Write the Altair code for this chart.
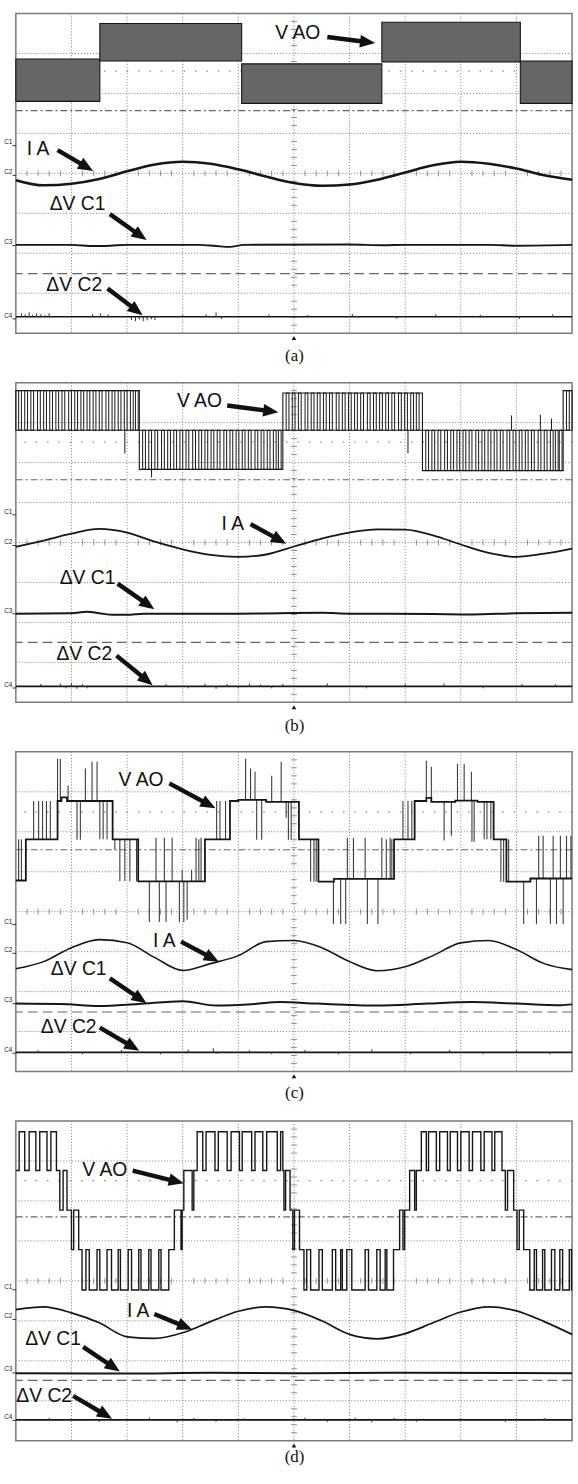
import math
import altair as alt
import numpy as np
import pandas as pd

# ---------------------------------------------------------------------------
# Data (x: 0..10 div, y: 0..8 div)
# ---------------------------------------------------------------------------
CAPTIONS = ["(a)", "(b)", "(c)", "(d)"]
CAPTION_GAP = [15, 15, 13, 8]
CHANNELS = ["C1", "C2", "C3", "C4"]
CH_LEVELS = [[4.71, 3.97, 2.21, 0.38],
             [4.70, 3.94, 2.22, 0.37],
             [3.69, 2.98, 1.72, 0.48],
             [3.79, 3.05, 1.72, 0.52]]
DASHDOT_Y = [5.57, 5.57, 5.55, 5.60]
DASHED_Y = [1.49, 1.50, 1.49, 1.51]
CURSOR_Y = [6.56, 6.51, 6.49, 6.51]

# V AO (a): dense PWM bands
A_X0 = [0, 1.51, 4.06, 6.58, 9.07]
A_X1 = [1.51, 4.06, 6.58, 9.07, 10]
A_LO = [5.80, 6.81, 5.75, 6.79, 5.75]
A_HI = [6.86, 7.75, 6.74, 7.78, 6.81]

# V AO (b): PWM bands and the notches seen in them
B_X0 = [0, 2.22, 4.80, 7.31, 9.84]
B_X1 = [2.22, 4.80, 7.31, 9.84, 10]
B_LO = [6.81, 5.83, 6.81, 5.80, 6.81]
B_HI = [7.80, 6.81, 7.74, 6.81, 7.80]
B_NOTCH = [0.05, 0.16, 0.27, 0.39, 0.50, 0.61, 0.72, 0.83, 0.95, 1.06, 1.17, 1.28,
           1.39, 1.50, 1.62, 1.73, 1.84, 1.95, 2.06, 2.15,
           2.28, 2.39, 2.50, 2.62, 2.73, 2.84, 2.95, 3.06, 3.18, 3.29, 3.40, 3.51,
           3.62, 3.74, 3.85, 3.96, 4.07, 4.18, 4.30, 4.41, 4.52, 4.63, 4.72,
           4.86, 4.97, 5.08, 5.20, 5.31, 5.42, 5.53, 5.64, 5.76, 5.87, 5.98, 6.09,
           6.20, 6.32, 6.43, 6.54, 6.65, 6.76, 6.88, 6.99, 7.10, 7.20,
           7.37, 7.48, 7.59, 7.71, 7.82, 7.93, 8.04, 8.15, 8.27, 8.38, 8.49, 8.60,
           8.71, 8.83, 8.94, 9.05, 9.16, 9.27, 9.39, 9.50, 9.61, 9.70, 9.77, 9.90]
B_SPK = [(1.96, 6.81, 6.23), (2.44, 5.83, 5.63), (7.05, 6.81, 6.23),
         (8.91, 6.81, 7.18), (9.43, 6.81, 7.20), (9.63, 6.81, 7.10)]

# V AO (c): staircase (x, level) plus spikes (x, end level)
C_STEP = [(0, 4.78), (0.18, 5.81), (0.75, 6.77), (0.82, 6.86), (0.92, 6.77),
          (1.74, 5.81), (2.20, 4.76), (3.40, 5.81), (3.85, 6.77), (4.00, 6.80),
          (4.50, 6.75), (5.09, 5.81), (5.44, 4.75), (5.72, 4.82), (6.80, 5.81),
          (7.17, 6.77), (7.38, 6.85), (7.47, 6.75), (7.90, 6.78), (8.30, 6.75),
          (8.59, 5.81), (8.82, 4.75), (9.25, 4.83), (10, 4.83)]
C_SPK = [(0.05, 5.81), (0.10, 5.81), (0.32, 6.77), (0.41, 6.77), (0.48, 6.77),
         (0.55, 6.77), (0.62, 6.77), (0.75, 7.83), (0.80, 7.83), (0.94, 7.16),
         (1.25, 7.58), (1.37, 7.75), (1.46, 7.75), (1.10, 5.80), (1.16, 5.80),
         (1.51, 5.81), (1.57, 5.81), (1.64, 5.81), (1.78, 5.55), (1.87, 4.76),
         (1.96, 4.76), (2.05, 4.76), (2.17, 4.76), (2.40, 3.74), (2.58, 3.74),
         (2.70, 3.74), (2.94, 3.74), (3.02, 3.74), (3.08, 3.80), (2.52, 5.85),
         (2.67, 5.85), (2.81, 5.85), (3.24, 5.85), (3.33, 5.85), (2.99, 5.05),
         (3.16, 5.05), (3.29, 5.81), (3.61, 6.77), (3.67, 6.77), (3.77, 6.77),
         (4.13, 7.83), (4.22, 7.58), (4.30, 7.50), (4.60, 7.40), (4.77, 7.75),
         (4.33, 5.80), (4.42, 5.80), (4.86, 6.35), (4.90, 5.80), (4.95, 5.80),
         (5.30, 4.75), (5.36, 4.75), (5.40, 4.75), (5.71, 3.69), (5.84, 3.69),
         (5.93, 3.69), (6.32, 3.69), (6.51, 3.69), (5.96, 5.85), (6.07, 5.85),
         (6.28, 5.85), (6.58, 5.85), (6.73, 5.85), (6.66, 5.81), (6.76, 5.81),
         (6.96, 6.77), (7.05, 6.77), (7.12, 6.77), (7.38, 7.78), (7.47, 7.63),
         (7.94, 7.70), (8.06, 7.70), (8.19, 7.50), (7.70, 5.78), (7.83, 5.90),
         (8.20, 5.75), (8.24, 5.75), (8.42, 5.81), (8.47, 5.81), (8.54, 5.81),
         (8.72, 4.75), (8.77, 4.75), (8.86, 5.81), (9.13, 3.69), (9.36, 3.69),
         (9.61, 3.69), (9.72, 3.69), (9.84, 3.69), (9.40, 5.90), (9.48, 5.90),
         (9.66, 5.90), (9.79, 5.90), (9.90, 5.90), (9.98, 5.90)]

# V AO (d): five-level waveform (x, level number 1..5)
D_LEVELS = [7.73, 6.76, 5.77, 4.78, 3.77]
D_STEP = [(0, 2), (0.06, 1), (0.16, 2), (0.24, 1), (0.36, 2), (0.43, 1), (0.56, 2),
          (0.63, 1), (0.73, 2), (0.79, 3), (0.85, 2), (0.92, 3), (1.00, 4), (1.04, 3),
          (1.13, 4), (1.19, 5), (1.26, 4), (1.32, 5), (1.46, 4), (1.51, 5), (1.64, 4),
          (1.72, 5), (1.84, 4), (1.88, 5), (2.02, 4), (2.08, 5), (2.21, 4), (2.25, 5),
          (2.39, 4), (2.43, 5), (2.57, 4), (2.61, 5), (2.75, 4), (2.85, 3), (2.97, 4),
          (2.99, 3), (3.02, 2), (3.17, 3), (3.20, 2), (3.26, 1), (3.36, 2), (3.42, 1),
          (3.58, 2), (3.64, 1), (3.80, 2), (3.87, 1), (4.02, 2), (4.07, 1), (4.24, 2),
          (4.30, 1), (4.44, 2), (4.51, 1), (4.70, 2), (4.76, 1), (4.80, 2), (4.82, 3),
          (4.85, 2), (4.93, 3), (4.98, 4), (5.01, 3), (5.10, 4), (5.18, 5), (5.23, 4),
          (5.30, 5), (5.45, 4), (5.51, 5), (5.69, 4), (5.75, 5), (5.84, 4), (5.87, 5),
          (5.95, 4), (6.04, 5), (6.28, 4), (6.34, 5), (6.49, 4), (6.55, 5), (6.64, 4),
          (6.67, 5), (6.79, 4), (6.90, 3), (6.96, 4), (6.99, 3), (7.08, 2), (7.17, 3),
          (7.20, 2), (7.29, 1), (7.38, 2), (7.42, 1), (7.56, 2), (7.62, 1), (7.76, 2),
          (7.81, 1), (7.94, 2), (8.00, 1), (8.15, 2), (8.21, 1), (8.36, 2), (8.42, 1),
          (8.56, 2), (8.61, 1), (8.74, 2), (8.80, 3), (8.84, 2), (8.95, 3), (9.01, 4),
          (9.05, 3), (9.13, 4), (9.24, 5), (9.32, 4), (9.36, 5), (9.47, 4), (9.51, 5),
          (9.63, 4), (9.69, 5), (9.78, 4), (9.83, 5), (9.95, 4), (9.99, 5), (10, 5)]

# I A traces sampled every half division
IA_X = [0, 0.5, 1, 1.5, 2, 2.5, 3, 3.5, 4, 4.5, 5, 5.5, 6, 6.5, 7, 7.5, 8, 8.5, 9, 9.5, 10]
IA = [[3.83, 3.70, 3.74, 3.86, 4.05, 4.22, 4.29, 4.24, 4.10, 3.92, 3.76, 3.69, 3.72,
       3.84, 4.02, 4.20, 4.29, 4.24, 4.12, 3.95, 3.84],
      [3.89, 4.05, 4.22, 4.34, 4.25, 4.02, 3.83, 3.69, 3.64, 3.70, 3.90, 4.10, 4.25,
       4.33, 4.32, 4.18, 3.95, 3.74, 3.64, 3.72, 3.85],
      [2.57, 2.75, 3.10, 3.30, 3.22, 2.85, 2.53, 2.70, 2.90, 3.25, 3.28, 3.10, 2.75,
       2.52, 2.62, 2.90, 3.22, 3.28, 3.05, 2.70, 2.55],
      [3.28, 3.35, 3.20, 2.95, 2.60, 2.56, 2.70, 2.98, 3.24, 3.35, 3.26, 3.00, 2.66,
       2.55, 2.68, 2.95, 3.22, 3.35, 3.25, 2.98, 2.66]]

# delta V C1 traces
C1_X = [[0, 1.0, 1.4, 1.7, 2.0, 3.3, 3.6, 3.85, 4.1, 6.0, 6.6, 7.0, 8.5, 9.0, 10],
        [0, 1.0, 1.28, 1.5, 1.75, 2.0, 2.3, 4.0, 5.5, 6.0, 7.5, 8.2, 9.0, 10],
        [0, 0.8, 1.5, 2.2, 3.0, 3.6, 4.3, 4.75, 5.4, 6.5, 7.4, 8.2, 9.0, 9.8, 10],
        [0, 2.0, 3.5, 5.0, 7.0, 10]]
C1_Y = [[2.21, 2.21, 2.18, 2.19, 2.21, 2.21, 2.18, 2.16, 2.21, 2.22, 2.20, 2.21, 2.21, 2.19, 2.21],
        [2.22, 2.23, 2.27, 2.23, 2.19, 2.19, 2.22, 2.22, 2.24, 2.22, 2.21, 2.20, 2.23, 2.24],
        [1.70, 1.69, 1.64, 1.69, 1.76, 1.65, 1.69, 1.74, 1.70, 1.65, 1.70, 1.74, 1.70, 1.66, 1.68],
        [1.69, 1.68, 1.70, 1.69, 1.70, 1.69]]

# delta V C2 traces: base level and noise spikes
C2_BASE = [0.41, 0.40, 0.48, 0.52]
C2_SPK_X = [[0.10, 0.17, 0.24, 0.30, 0.37, 0.45, 0.52, 0.60, 1.38, 1.52, 1.66, 2.08, 2.15,
             2.22, 2.29, 2.36, 2.44, 2.50, 3.00, 3.42, 3.60, 3.70, 4.55, 5.25, 6.05, 6.85,
             7.55, 8.35, 9.05, 9.65],
            [0.45, 0.80, 0.90, 1.00, 1.10, 1.20, 1.28, 2.70, 3.10, 3.40, 3.60, 3.80, 4.00,
             4.20, 4.40, 4.60, 4.80, 5.60, 6.30, 7.00, 7.70, 8.40, 9.10, 9.70],
            [0.40, 1.20, 1.90, 2.60, 3.10, 3.55, 3.62, 4.20, 4.60, 5.20, 5.80, 6.40, 7.10,
             7.80, 8.40, 9.00, 9.60],
            [0.60, 1.50, 2.40, 2.90, 3.20, 3.60, 4.10, 5.20, 5.60, 6.10, 6.40, 6.80, 7.20,
             8.00, 8.80, 9.50]]
C2_SPK_Y = [[0.50, 0.47, 0.52, 0.46, 0.50, 0.48, 0.45, 0.50, 0.48, 0.50, 0.47, 0.33, 0.30,
             0.34, 0.30, 0.32, 0.35, 0.33, 0.46, 0.47, 0.52, 0.35, 0.47, 0.46, 0.48, 0.36,
             0.47, 0.46, 0.35, 0.47],
            [0.46, 0.47, 0.35, 0.48, 0.34, 0.46, 0.35, 0.46, 0.35, 0.47, 0.34, 0.46, 0.36,
             0.47, 0.45, 0.35, 0.46, 0.47, 0.35, 0.46, 0.47, 0.35, 0.46, 0.45],
            [0.53, 0.43, 0.54, 0.43, 0.55, 0.58, 0.44, 0.53, 0.43, 0.54, 0.43, 0.55, 0.43,
             0.54, 0.43, 0.53, 0.43],
            [0.57, 0.47, 0.58, 0.46, 0.57, 0.47, 0.56, 0.58, 0.47, 0.58, 0.46, 0.57, 0.47,
             0.56, 0.47, 0.57]]

# Annotations: (label, text x, text y, arrow tail x, tail y, head x, head y)
NOTES = [
    [("V AO", 5.07, 7.50, 5.60, 7.41, 6.46, 7.26), ("I A", 0.40, 4.60, 0.75, 4.58, 1.39, 4.06),
     ("ΔV C1", 1.11, 3.24, 1.69, 2.98, 2.35, 2.33), ("ΔV C2", 1.05, 1.21, 1.65, 1.12, 2.28, 0.45)],
    [("V AO", 3.30, 7.53, 3.80, 7.43, 4.72, 7.26), ("I A", 3.90, 4.46, 4.22, 4.46, 4.86, 3.97),
     ("ΔV C1", 1.29, 3.12, 1.83, 2.97, 2.49, 2.33), ("ΔV C2", 1.23, 1.22, 1.81, 1.17, 2.46, 0.43)],
    [("V AO", 2.25, 7.29, 2.76, 7.21, 3.59, 6.59), ("I A", 2.67, 3.27, 2.97, 3.25, 3.65, 2.75),
     ("ΔV C1", 1.13, 2.57, 1.69, 2.33, 2.35, 1.71), ("ΔV C2", 0.95, 1.12, 1.51, 1.10, 2.22, 0.52)],
    [("V AO", 1.60, 6.77, 2.10, 6.76, 3.02, 6.44), ("I A", 2.20, 3.25, 2.49, 3.17, 3.17, 2.78),
     ("ΔV C1", 0.67, 2.54, 1.21, 2.35, 1.87, 1.73), ("ΔV C2", 0.51, 1.12, 1.03, 1.12, 1.73, 0.55)],
]

HGRID = [1, 2, 3, 4, 5, 6, 7]
VGRID = [1, 2, 3, 4, 5, 6, 7, 8, 9]

# ---------------------------------------------------------------------------
# Style
# ---------------------------------------------------------------------------
PLOT_W, PLOT_H = 562, 323
SX, SY = PLOT_W / 10.0, PLOT_H / 8.0
INK = "#161616"
GRID = "#8e8e8e"
SANS = "Liberation Sans"
SERIF = "Liberation Serif"
NOTCH_W = 0.05
HEAD_PATH = "M0,0L0.75,1.8L-0.75,1.8Z"
HEAD_SIZE = 290
HEAD_R = math.sqrt(HEAD_SIZE) / 2.0

xs = alt.Scale(domain=[0, 10], nice=False, zero=False)
ys = alt.Scale(domain=[0, 8], nice=False, zero=False)


def y_axis(levels):
    expr = ""
    for v, n in zip(levels[:-1], CHANNELS[:-1]):
        expr += f"datum.value == {v} ? '{n}' : "
    expr += f"'{CHANNELS[-1]}'"
    return alt.Axis(values=levels, labelExpr=expr, title=None, grid=False, domain=False,
                    ticks=True, tickSize=4, tickColor="#333", tickWidth=1,
                    labelFontSize=6.5, labelFont=SANS, labelColor="#222", labelPadding=0,
                    labelBaseline="bottom", labelOverlap=False, labelFlush=False,
                    minExtent=15, maxExtent=15)


def x_axis(caption, gap):
    return alt.Axis(title=caption, labels=False, ticks=False, domain=False, grid=False,
                    titleFont=SERIF, titleFontSize=17, titleFontWeight="normal",
                    titleColor="#111", titlePadding=gap, minExtent=0, maxExtent=0)


class Panel:
    def __init__(self, i):
        self.i = i
        self.xa = x_axis(CAPTIONS[i], CAPTION_GAP[i])
        self.ya = y_axis(CH_LEVELS[i])

    def X(self, f):
        return alt.X(f"{f}:Q", scale=xs, axis=self.xa)

    def Y(self, f):
        return alt.Y(f"{f}:Q", scale=ys, axis=self.ya)

    def frame_layers(self):
        i = self.i
        hg = alt.Chart(pd.DataFrame({"v": HGRID})).mark_rule(
            color=GRID, strokeDash=[1.2, 1.8], strokeWidth=1).encode(y=self.Y("v"))
        vg = alt.Chart(pd.DataFrame({"v": VGRID})).mark_rule(
            color=GRID, strokeDash=[1.2, 1.8], strokeWidth=1).encode(x=self.X("v"))
        xt = [k / 5 for k in range(1, 50) if k % 5]
        yt = [k / 5 for k in range(1, 40) if k % 5]
        tx = alt.Chart(pd.DataFrame({"x": xt, "y": [4] * len(xt)})).mark_tick(
            orient="vertical", size=6, thickness=1, color="#666").encode(x=self.X("x"), y=self.Y("y"))
        ty = alt.Chart(pd.DataFrame({"x": [5] * len(yt), "y": yt})).mark_tick(
            orient="horizontal", size=6, thickness=1, color="#666").encode(x=self.X("x"), y=self.Y("y"))
        dd = alt.Chart(pd.DataFrame({"y": [DASHDOT_Y[i]]})).mark_rule(
            color="#666", strokeDash=[7, 3, 2, 3], strokeWidth=1.2).encode(y=self.Y("y"))
        da = alt.Chart(pd.DataFrame({"y": [DASHED_Y[i]]})).mark_rule(
            color="#666", strokeDash=[10, 5], strokeWidth=1.2).encode(y=self.Y("y"))
        cu = alt.Chart(pd.DataFrame({"y": [CURSOR_Y[i]]})).mark_rule(
            color="#888", strokeDash=[1.5, 10], strokeWidth=1.2).encode(y=self.Y("y"))
        trig = alt.Chart(pd.DataFrame({"x": [5], "y": [-0.12]})).mark_point(
            shape="triangle-up", filled=True, size=22, color=INK, opacity=1).encode(
            x=self.X("x"), y=self.Y("y"))
        return [hg, vg, tx, ty, dd, da, cu, trig]

    def band_layer(self, x0, x1, lo, hi, filled):
        df = pd.DataFrame({"x": x0, "x2": x1, "y": lo, "y2": hi})
        if filled:
            mk = alt.Chart(df).mark_rect(fill="#666666", stroke=INK, strokeWidth=1.1)
        else:
            mk = alt.Chart(df).mark_rect(fillOpacity=0, stroke=INK, strokeWidth=1.1)
        return mk.encode(x=self.X("x"), x2="x2", y=self.Y("y"), y2="y2")

    def rule_layer(self, df, color, width):
        return alt.Chart(df).mark_rule(color=color, strokeWidth=width).encode(
            x=self.X("x"), y=self.Y("y"), y2="y2")

    def vao_a(self):
        return [self.band_layer(A_X0, A_X1, A_LO, A_HI, True)]

    def vao_b(self):
        idx = np.searchsorted(np.array(B_X0), np.array(B_NOTCH), side="right") - 1
        nd = pd.DataFrame({"x": B_NOTCH, "x2": np.array(B_NOTCH) + NOTCH_W,
                           "y": np.array(B_LO)[idx], "y2": np.array(B_HI)[idx]})
        notches = alt.Chart(nd).mark_rect(fillOpacity=0, stroke=INK, strokeWidth=1.0).encode(
            x=self.X("x"), x2="x2", y=self.Y("y"), y2="y2")
        sp = pd.DataFrame(B_SPK, columns=["x", "y", "y2"])
        return [self.band_layer(B_X0, B_X1, B_LO, B_HI, False), notches,
                self.rule_layer(sp, INK, 1.0)]

    def vao_c(self):
        st = pd.DataFrame(C_STEP, columns=["x", "y"])
        sp = pd.DataFrame(C_SPK, columns=["x", "y2"])
        idx = np.searchsorted(st["x"].values, sp["x"].values, side="right") - 1
        sp["y"] = st["y"].values[idx]
        line = alt.Chart(st).mark_line(interpolate="step-after", color=INK, strokeWidth=1.8).encode(
            x=self.X("x"), y=self.Y("y"))
        return [self.rule_layer(sp, "#3a3a3a", 1.1), line]

    def vao_d(self):
        st = pd.DataFrame(D_STEP, columns=["x", "lvl"])
        st["y"] = [D_LEVELS[k - 1] for k in st["lvl"]]
        line = alt.Chart(st).mark_line(interpolate="step-after", color=INK, strokeWidth=1.4).encode(
            x=self.X("x"), y=self.Y("y"))
        return [line]

    def trace_layers(self, ia_width):
        i = self.i
        ia = alt.Chart(pd.DataFrame({"x": IA_X, "y": IA[i]})).mark_line(
            interpolate="monotone", color=INK, strokeWidth=ia_width).encode(x=self.X("x"), y=self.Y("y"))
        c1 = alt.Chart(pd.DataFrame({"x": C1_X[i], "y": C1_Y[i]})).mark_line(
            interpolate="monotone", color=INK, strokeWidth=2.0).encode(x=self.X("x"), y=self.Y("y"))
        c2 = alt.Chart(pd.DataFrame({"x": [0, 10], "y": [C2_BASE[i]] * 2})).mark_line(
            color=INK, strokeWidth=1.6).encode(x=self.X("x"), y=self.Y("y"))
        sp = pd.DataFrame({"x": C2_SPK_X[i], "y": [C2_BASE[i]] * len(C2_SPK_X[i]),
                           "y2": C2_SPK_Y[i]})
        return [ia, c1, c2, self.rule_layer(sp, "#333", 1.0)]

    def note_layers(self):
        t_rows, s_rows, h_rows = [], [], []
        for txt, tx, ty, x0, y0, x1, y1 in NOTES[self.i]:
            dxp, dyp = (x1 - x0) * SX, (y1 - y0) * SY
            ln = math.hypot(dxp, dyp)
            ux, uy = dxp / ln, dyp / ln
            s_rows.append({"x": x0, "y": y0, "x2": x1 - ux * HEAD_R / SX,
                           "y2": y1 - uy * HEAD_R / SY})
            h_rows.append({"x": x1, "y": y1, "a": math.degrees(math.atan2(dxp, dyp)) % 360})
            t_rows.append({"x": tx, "y": ty, "t": txt})
        text = alt.Chart(pd.DataFrame(t_rows)).mark_text(
            font=SANS, fontSize=19.5, align="center", baseline="middle", color="#111").encode(
            x=self.X("x"), y=self.Y("y"), text="t:N")
        shaft = alt.Chart(pd.DataFrame(s_rows)).mark_rule(
            color="#111", strokeWidth=4.5, strokeCap="butt").encode(
            x=self.X("x"), y=self.Y("y"), x2="x2", y2="y2")
        head = alt.Chart(pd.DataFrame(h_rows)).mark_point(
            shape=HEAD_PATH, filled=True, size=HEAD_SIZE, color="#111", opacity=1,
            strokeWidth=0).encode(x=self.X("x"), y=self.Y("y"), angle=alt.Angle("a:Q", scale=None))
        return [text, shaft, head]

    def chart(self, vao, ia_width):
        layers = self.frame_layers() + vao + self.trace_layers(ia_width) + self.note_layers()
        return alt.layer(*layers).properties(width=PLOT_W, height=PLOT_H)


pa, pb, pc, pd_ = Panel(0), Panel(1), Panel(2), Panel(3)
chart = alt.vconcat(
    pa.chart(pa.vao_a(), 2.6),
    pb.chart(pb.vao_b(), 1.8),
    pc.chart(pc.vao_c(), 1.6),
    pd_.chart(pd_.vao_d(), 1.7),
    spacing=50,
    bounds="flush",
).properties(
    padding={"left": 0, "top": 4, "right": 0, "bottom": 0},
    background="white",
).configure_view(stroke="#7a7a7a", strokeWidth=1.5)

chart.save("out.html", embed_options={"renderer": "svg", "actions": False})
